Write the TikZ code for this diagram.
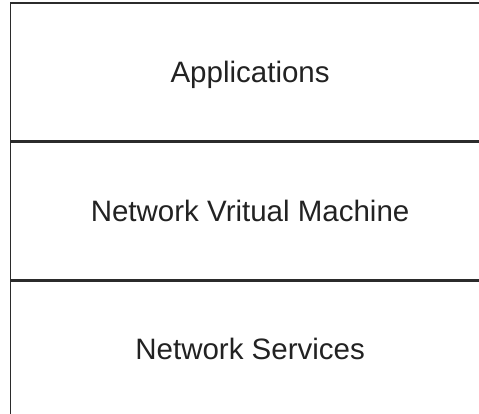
\documentclass[tikz,border=0pt]{standalone}
\usepackage{fontspec}
\setmainfont{Liberation Sans}
\definecolor{edge}{HTML}{2B2B2B}
\definecolor{ink}{HTML}{222222}
\begin{document}
\begin{tikzpicture}[x=1pt,y=1pt,
  layer/.style={draw=edge, line width=1.7pt, rectangle, inner sep=0pt,
    minimum width=479.5pt, text=ink,
    font=\fontsize{29.5}{34}\selectfont, text height=21pt, text depth=0pt}]
  \useasboundingbox (0,0) rectangle (479,413);
  % three stacked layers of the stack, right side runs past the page edge
  \node[layer, minimum height=137.5pt, anchor=north west] (apps) at (9.5,410.5) {Applications};
  \node[layer, minimum height=137pt, anchor=north west] (nvm) at (apps.south west) {Network Vritual Machine};
  \node[layer, minimum height=134.5pt, anchor=north west] (svc) at (nvm.south west) {Network Services};
\end{tikzpicture}
\end{document}
